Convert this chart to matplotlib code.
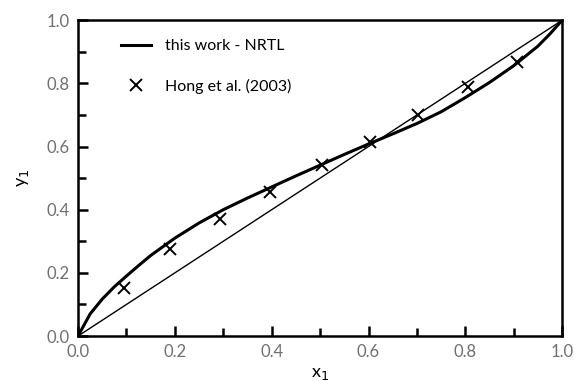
import matplotlib
matplotlib.use('Agg')
import matplotlib.pyplot as plt
from matplotlib.ticker import MultipleLocator

# NRTL curve
x_nrtl = [0.0, 0.025, 0.05, 0.075, 0.1, 0.125, 0.15, 0.2, 0.25, 0.3, 0.35, 0.4, 0.45, 0.5,
          0.55, 0.6, 0.65, 0.7, 0.75, 0.8, 0.85, 0.9, 0.95, 0.975, 1.0]
y_nrtl = [0.0, 0.07, 0.117, 0.156, 0.19, 0.223, 0.255, 0.31, 0.358, 0.40, 0.437, 0.472, 0.507, 0.541,
          0.575, 0.608, 0.64, 0.673, 0.71, 0.755, 0.803, 0.856, 0.918, 0.957, 1.0]

# Hong et al. (2003)
x_exp = [0.094, 0.19, 0.293, 0.397, 0.503, 0.603, 0.703, 0.806, 0.906]
y_exp = [0.151, 0.275, 0.372, 0.457, 0.541, 0.614, 0.699, 0.789, 0.868]

diag = [0.0, 1.0]

plt.rcParams['font.family'] = ['Lato', 'DejaVu Sans']

fig = plt.figure(figsize=(5.75, 3.81), dpi=100)
ax = fig.add_axes([0.1357, 0.118, 0.842, 0.829])

ax.plot(diag, diag, color='black', linewidth=1.0)
ax.plot(x_nrtl, y_nrtl, color='black', linewidth=2.2, label='this work - NRTL')
ax.plot(x_exp, y_exp, 'x', color='black', markersize=8.5, markeredgewidth=1.4, label='Hong et al. (2003)')

ax.set_xlim(0, 1)
ax.set_ylim(0, 1)
ax.xaxis.set_major_locator(MultipleLocator(0.2))
ax.xaxis.set_minor_locator(MultipleLocator(0.1))
ax.yaxis.set_major_locator(MultipleLocator(0.2))
ax.yaxis.set_minor_locator(MultipleLocator(0.1))
ax.tick_params(which='both', direction='in', top=False, right=False, width=1.8, colors='black',
               labelcolor='#707070', labelsize=12, pad=6)
ax.tick_params(which='major', length=7)
ax.tick_params(which='minor', length=6)
ax.xaxis.set_major_formatter(plt.FormatStrFormatter('%.1f'))
ax.yaxis.set_major_formatter(plt.FormatStrFormatter('%.1f'))
for s in ax.spines.values():
    s.set_linewidth(1.8)

ax.set_xlabel('x$_1$', fontsize=13, labelpad=4)
ax.set_ylabel('y$_1$', fontsize=13, labelpad=11)

ax.legend(loc='upper left', frameon=False, fontsize=11.5, handlelength=1.9, handletextpad=0.9,
          labelspacing=1.6, borderaxespad=0.3, bbox_to_anchor=(0.065, 0.975))

fig.savefig('out.png', dpi=100)
